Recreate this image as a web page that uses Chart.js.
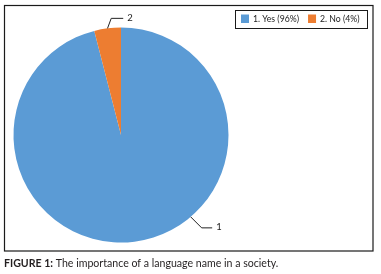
<!DOCTYPE html>
<html>
<head>
<meta charset="utf-8">
<script src="https://cdn.jsdelivr.net/npm/chart.js@4.4.0/dist/chart.umd.min.js"></script>
<style>
    html, body { margin: 0; padding: 0; background: #fff; }
    #wrap { width: 381px; height: 274px; }
</style>
</head>
<body>
<div id="wrap"><canvas id="languagePie" width="381" height="274"></canvas></div>
<script>
// Chart data
const categories = ['1. Yes', '2. No'];
const sliceLabels = ['1', '2'];
const percentValues = [96, 4];
const sliceColors = ['#5B9BD5', '#ED7D31'];
const captionBold = 'FIGURE 1:';
const captionText = ' The importance of a language name in a society.';

// Frame, legend box, leader lines and caption
const figurePlugin = {
    id: 'figurePlugin',
    beforeDraw(chart) {
        const ctx = chart.ctx;
        ctx.save();
        ctx.fillStyle = '#fff';
        ctx.fillRect(0, 0, chart.width, chart.height);
        ctx.restore();
    },
    afterDraw(chart, args, opts) {
        const ctx = chart.ctx;
        ctx.save();

        // outer frame
        ctx.strokeStyle = '#1a1a1a';
        ctx.lineWidth = 1.2;
        ctx.strokeRect(4.5, 5.5, 368.5, 245.5);

        // legend
        ctx.lineWidth = 1;
        ctx.strokeRect(235.5, 10.5, 132, 18);
        ctx.font = '8.7px Lato';
        ctx.textBaseline = 'middle';
        let x = 241;
        categories.forEach((cat, i) => {
            ctx.fillStyle = sliceColors[i];
            ctx.fillRect(x, 14.5, 8, 8.5);
            x += 12;
            const t = `${cat} (${percentValues[i]}%)`;
            ctx.fillStyle = '#222';
            ctx.fillText(t, x, 19);
            x += ctx.measureText(t).width + 9;
        });

        // leader lines with slice numbers
        const meta = chart.getDatasetMeta(0);
        ctx.strokeStyle = '#222';
        ctx.lineWidth = 1;
        ctx.font = '9.5px Lato';
        meta.data.forEach((arc, i) => {
            const L = opts.leaders[i];
            const a = L.angle !== null ? L.angle * Math.PI / 180 : (arc.startAngle + arc.endAngle) / 2;
            const x0 = arc.x + Math.cos(a) * arc.outerRadius;
            const y0 = arc.y + Math.sin(a) * arc.outerRadius;
            const x1 = x0 + L.elbow[0];
            const y1 = y0 + L.elbow[1];
            const x2 = x1 + L.run;
            ctx.beginPath();
            ctx.moveTo(x0, y0);
            ctx.lineTo(x1, y1);
            ctx.lineTo(x2, y1);
            ctx.stroke();
            ctx.fillStyle = '#222';
            ctx.fillText(sliceLabels[i], x2 + 4, y1 - 0.5);
        });

        // caption under the frame
        ctx.fillStyle = '#231f20';
        ctx.font = 'bold 10.6px Lato';
        ctx.fillText(captionBold, 4, 264);
        const w = ctx.measureText(captionBold).width;
        ctx.font = '10.6px Lato';
        ctx.fillText(captionText, 4 + w, 264);

        ctx.restore();
    }
};

new Chart(document.getElementById('languagePie').getContext('2d'), {
    type: 'pie',
    data: {
        labels: categories,
        datasets: [{
            data: percentValues,
            backgroundColor: sliceColors,
            borderWidth: 0
        }]
    },
    options: {
        responsive: false,
        animation: false,
        devicePixelRatio: 1,
        layout: {
            padding: { left: 13, right: 152, top: 27.5, bottom: 31.5 }
        },
        plugins: {
            legend: { display: false },
            tooltip: { enabled: false },
            figurePlugin: {
                leaders: [
                    { angle: 49.6, elbow: [11, 11], run: 10.5 },
                    { angle: null, elbow: [3.7, -10], run: 12 }
                ]
            }
        }
    },
    plugins: [figurePlugin]
});
</script>
</body>
</html>
